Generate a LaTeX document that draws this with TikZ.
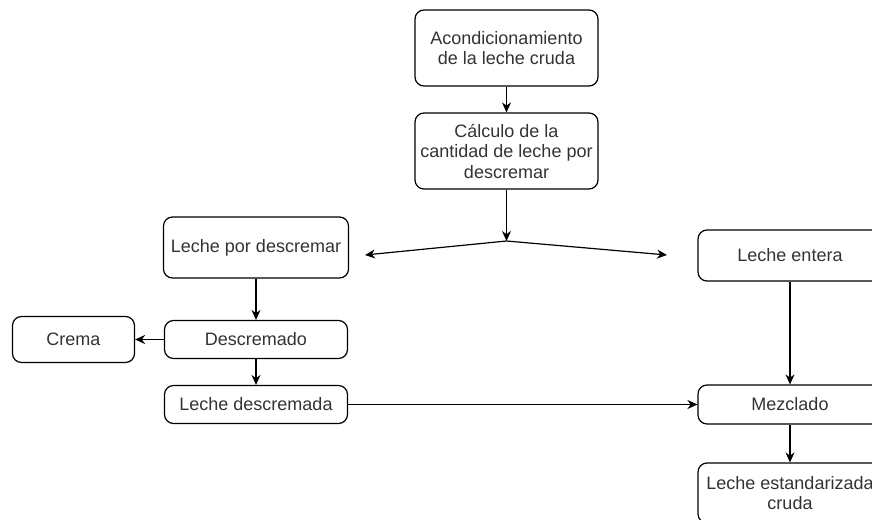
\documentclass[tikz,border=0pt]{standalone}
\usepackage{fontspec}
\setmainfont{Liberation Sans}
\usetikzlibrary{arrows.meta,positioning}
\definecolor{txtgray}{HTML}{333333}

\begin{document}
\begin{tikzpicture}[x=1pt,y=1pt,on grid,
   box/.style={draw,rounded corners=9pt,align=center,text=txtgray,inner sep=0pt,
               line width=1.2pt,font=\fontsize{18}{20.5}\selectfont},
   flow/.style={-{Stealth[length=10pt,width=9pt]},line width=1.2pt}]
   \useasboundingbox (0,0) rectangle (872,-519);
   \clip (0,0) rectangle (872,-519);
   \node[box,minimum width=183pt,minimum height=76pt] (acond) at (506.5,-48) {Acondicionamiento\\de la leche cruda};
   \node[box,minimum width=183pt,minimum height=76pt] (calc) [below=103pt of acond] {Cálculo de la\\cantidad de leche por\\descremar};
   \coordinate[below=90pt of calc] (split);
   \coordinate (izq) at (365,-255);
   \coordinate (der) at (667,-255);
   \node[box,minimum width=185pt,minimum height=61pt] (lpd) at (256,-247.5) {Leche por descremar};
   \node[box,minimum width=184pt,minimum height=51pt] (entera) at (790,-255.5) {Leche entera};
   \node[box,minimum width=183pt,minimum height=38pt] (desc) [below=92pt of lpd] {Descremado};
   \node[box,minimum width=122pt,minimum height=46pt] (crema) [left=182.5pt of desc] {Crema};
   \node[box,minimum width=183pt,minimum height=38pt] (ldesc) [below=65pt of desc] {Leche descremada};
   \node[box,minimum width=184pt,minimum height=39pt] (mezcl) [below=149pt of entera] {Mezclado};
   \node[box,minimum width=184pt,minimum height=60pt] (lest) [below=88.5pt of mezcl] {Leche estandarizada\\cruda};
   \path[flow]
   (acond) edge (calc)
   (calc)  edge (split)
   (split) edge (izq)
           edge (der)
   (lpd)   edge (desc)
   (desc)  edge (crema)
           edge (ldesc)
   (ldesc) edge (mezcl)
   (entera) edge (mezcl)
   (mezcl) edge (lest);
\end{tikzpicture}
\end{document}
